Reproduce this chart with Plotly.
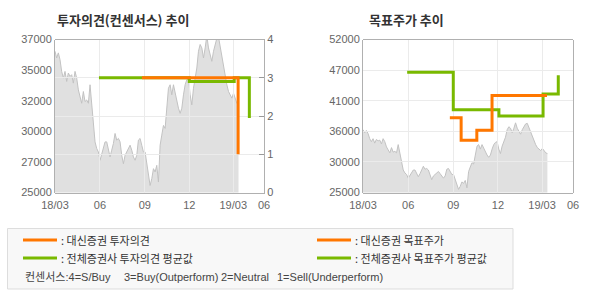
import plotly.graph_objects as go
import pandas as pd
import numpy as np

W, H = 590, 300

# ---------------- data ----------------
price_start = "2018-03-01"
price = [
    36080, 35550, 35950, 35420, 34500, 33970, 34500, 33710, 34370, 34110,
    34240, 33580, 34500, 33970, 33050, 32400, 32000, 32920, 32130, 32260,
    32000, 33450, 32130, 30550, 28970, 28450, 28180, 27530, 28050, 28450,
    28970, 28970, 28450, 27790, 28320, 28840, 29630, 29110, 29240, 28970,
    27920, 27260, 27920, 28180, 28450, 28710, 28320, 27790, 27530, 27920,
    29110, 29240, 28710, 28180,
    28180, 27390, 26340, 25550, 26080, 26870, 26610, 27130, 25820, 28710,
    29500, 30260, 30030, 31610, 33180, 33450, 32660, 33450, 32790, 32400,
    31610, 31210, 31610, 32660, 33450, 33840, 33970, 32660, 31870, 33180,
    33970, 34760, 36080, 36610, 36340, 35550, 36340, 37300, 36340, 35820,
    35290, 36080, 36610, 37100, 37200, 36470, 35550, 34760, 33970, 33450,
    32920, 32660, 32400, 32790, 32400, 32000, 31870,
]
price_dates = pd.date_range(price_start, periods=len(price), freq="82h")

# investment opinion (left chart)
op_daishin_dates = ["2018-08-26", "2019-03-11"]
op_daishin = [3, 1]
op_cons_dates = ["2018-05-30", "2018-12-01", "2019-03-03", "2019-04-03"]
op_cons = [3, 2.9, 3, 1.95]

# target price (right chart)
tp_daishin_dates = ["2018-08-25", "2018-09-17", "2018-10-19", "2018-11-19", "2019-03-11"]
tp_daishin = [38200, 34200, 36000, 42100, 42100]
tp_cons_dates = ["2018-05-30", "2018-09-01", "2018-12-03", "2019-03-03", "2019-04-03"]
tp_cons = [46200, 39600, 38500, 42400, 45700]

x_range = ["2018-03-01", "2019-05-03"]
x_tick_dates = ["2018-03-01", "2018-06-01", "2018-09-01", "2018-12-01", "2019-03-01", "2019-05-03"]
x_tick_text = ["18/03", "06", "09", "12", "19/03", "06"]

left_range = [25000, 37000]
left_tick_text = ["25000", "27000", "30000", "32000", "35000", "37000"]
right_range = [25000, 52000]
right_tick_text = ["25000", "30000", "36000", "41000", "47000", "52000"]
op_ticks = [0, 1, 2, 3, 4]

# ---------------- style ----------------
ORANGE = "#ff7700"
GREEN = "#79b900"
GRID = "#ebebeb"
AXIS = "#b0b0b0"
TICKC = "#666666"
FILL = "#e0e0e0"
PLINE = "#c2c2c2"
KFONT = "Noto Sans CJK KR"
NFONT = "Liberation Sans"

def px(x):
    return x / W

def py(y):
    return 1 - y / H

L_dom = [px(55), px(264)]
R_dom = [px(363), px(573)]
Y_dom = [py(192.5), py(39.5)]

fig = go.Figure()

# left chart: price (x, y)
fig.add_trace(go.Scatter(x=price_dates, y=price, mode="lines", fill="tozeroy",
                         fillcolor=FILL, line=dict(color=PLINE, width=1),
                         xaxis="x", yaxis="y", hoverinfo="skip"))
# left chart: opinions (x2, y2)
fig.add_trace(go.Scatter(x=op_cons_dates, y=op_cons, mode="lines", line_shape="hv",
                         line=dict(color=GREEN, width=3), xaxis="x2", yaxis="y2"))
fig.add_trace(go.Scatter(x=op_daishin_dates, y=op_daishin, mode="lines", line_shape="hv",
                         line=dict(color=ORANGE, width=3), xaxis="x2", yaxis="y2"))
# right chart: price (x3, y3)
fig.add_trace(go.Scatter(x=price_dates, y=price, mode="lines", fill="tozeroy",
                         fillcolor=FILL, line=dict(color=PLINE, width=1),
                         xaxis="x3", yaxis="y3", hoverinfo="skip"))
# right chart: target prices (x4, y4)
fig.add_trace(go.Scatter(x=tp_cons_dates, y=tp_cons, mode="lines", line_shape="hv",
                         line=dict(color=GREEN, width=3), xaxis="x4", yaxis="y4"))
fig.add_trace(go.Scatter(x=tp_daishin_dates, y=tp_daishin, mode="lines", line_shape="hv",
                         line=dict(color=ORANGE, width=3), xaxis="x4", yaxis="y4"))

tickfont = dict(family=NFONT, size=11, color=TICKC)
left_vals = list(np.linspace(left_range[0], left_range[1], len(left_tick_text)))
right_vals = list(np.linspace(right_range[0], right_range[1], len(right_tick_text)))

hidden_x = dict(type="date", range=x_range, showgrid=False, showticklabels=False,
                zeroline=False, showline=False, fixedrange=True, automargin=False)

fig.update_layout(
    width=W, height=H, margin=dict(l=0, r=0, t=0, b=0, autoexpand=False),
    paper_bgcolor="white", plot_bgcolor="rgba(0,0,0,0)",
    showlegend=False,
    xaxis=dict(domain=L_dom, anchor="y", **hidden_x),
    yaxis=dict(domain=Y_dom, anchor="x", range=left_range, tickvals=left_vals,
               ticktext=left_tick_text, showgrid=False, zeroline=False,
               showline=True, linecolor=AXIS, linewidth=1, ticks="",
               tickfont=tickfont, automargin=False),
    xaxis2=dict(domain=L_dom, anchor="y2", type="date", range=x_range,
                tickvals=x_tick_dates, ticktext=x_tick_text, showgrid=True,
                gridcolor=GRID, gridwidth=1, showline=True, mirror=True,
                linecolor=AXIS, linewidth=1, ticks="", tickfont=tickfont,
                ticklabelstandoff=2, zeroline=False, automargin=False),
    yaxis2=dict(domain=Y_dom, anchor="x2", side="right", range=[0, 4],
                tickvals=op_ticks, showgrid=True, gridcolor=GRID, zeroline=False,
                showline=True, linecolor=AXIS, linewidth=1, ticks="inside",
                ticklen=5, tickcolor="#999999", tickfont=tickfont, automargin=False),
    xaxis3=dict(domain=R_dom, anchor="y3", **hidden_x),
    yaxis3=dict(domain=Y_dom, anchor="x3", range=right_range, tickvals=right_vals,
                ticktext=right_tick_text, showgrid=False, zeroline=False,
                showline=True, mirror=True, linecolor=AXIS, linewidth=1,
                ticks="inside", ticklen=5, tickcolor="#bbbbbb", tickfont=tickfont,
                automargin=False),
    xaxis4=dict(domain=R_dom, anchor="y4", type="date", range=x_range,
                tickvals=x_tick_dates, ticktext=x_tick_text, showgrid=True,
                gridcolor=GRID, showline=True, mirror=True, linecolor=AXIS,
                linewidth=1, ticks="", tickfont=tickfont, ticklabelstandoff=2,
                zeroline=False, automargin=False),
    yaxis4=dict(domain=Y_dom, anchor="x4", range=right_range, tickvals=right_vals,
                showticklabels=False, showgrid=True, gridcolor=GRID,
                zeroline=False, showline=False, ticks="", automargin=False),
)

annotations = [
    dict(text="<b>투자의견(컨센서스) 추이</b>", x=px(55), y=py(20), xanchor="left",
         yanchor="middle", font=dict(family=KFONT, size=13, color="#333333")),
    dict(text="<b>목표주가 추이</b>", x=px(367), y=py(20), xanchor="left",
         yanchor="middle", font=dict(family=KFONT, size=13, color="#333333")),
]

legend_items = [
    (23, 57, 59, 240, ORANGE, ": 대신증권 투자의견"),
    (23, 57, 59, 258, GREEN, ": 전체증권사 투자의견 평균값"),
    (317, 351, 353, 240, ORANGE, ": 대신증권 목표주가"),
    (317, 351, 353, 258, GREEN, ": 전체증권사 목표주가 평균값"),
]

shapes = [
    dict(type="rect", xref="paper", yref="paper", x0=px(7.5), x1=px(513),
         y0=py(289), y1=py(228.5), fillcolor="#f8f8f8",
         line=dict(color="#dddddd", width=1), layer="below"),
]
for x0, x1, xt, yy, col, txt in legend_items:
    shapes.append(dict(type="line", xref="paper", yref="paper", x0=px(x0), x1=px(x1),
                       y0=py(yy), y1=py(yy), line=dict(color=col, width=3)))
    annotations.append(dict(text=txt, x=px(xt), y=py(yy), xanchor="left",
                            yanchor="middle",
                            font=dict(family=KFONT, size=11, color="#333333")))

consensus_parts = [
    (23, "컨센서스:4=S/Buy"),
    (122, "3=Buy(Outperform)"),
    (219, "2=Neutral"),
    (275, "1=Sell(Underperform)"),
]
for xt, txt in consensus_parts:
    annotations.append(dict(text=txt, x=px(xt), y=py(277), xanchor="left",
                            yanchor="middle",
                            font=dict(family="Liberation Sans, Noto Sans CJK KR",
                                      size=11, color="#444444")))

for a in annotations:
    a.update(xref="paper", yref="paper", showarrow=False)

fig.update_layout(annotations=annotations, shapes=shapes)

fig.write_html("out.html")
